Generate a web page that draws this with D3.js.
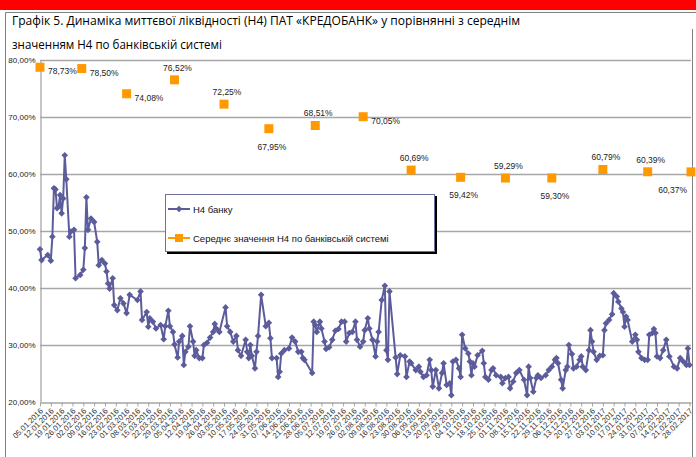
<!DOCTYPE html>
<html><head><meta charset="utf-8">
<script src="https://cdn.jsdelivr.net/npm/d3@7"></script>
<style>body{margin:0;background:#fff}svg{display:block}</style>
</head><body>
<svg id="c" width="696" height="457"></svg>
<script>
const titleLines = [
  "Графік 5. Динаміка миттєвої ліквідності (Н4) ПАТ «КРЕДОБАНК» у порівнянні з середнім",
  "значенням Н4 по банківській системі"
];
const seriesNames = ["Н4 банку", "Середнє значення Н4 по банківській системі"];
const yTicks = [20, 30, 40, 50, 60, 70, 80];
const xTickLabels = ["05.01.2016","12.01.2016","19.01.2016","26.01.2016","02.02.2016","09.02.2016","16.02.2016","23.02.2016","01.03.2016","08.03.2016","15.03.2016","22.03.2016","29.03.2016","05.04.2016","12.04.2016","19.04.2016","26.04.2016","03.05.2016","10.05.2016","17.05.2016","24.05.2016","31.05.2016","07.06.2016","14.06.2016","21.06.2016","28.06.2016","05.07.2016","12.07.2016","19.07.2016","26.07.2016","02.08.2016","09.08.2016","16.08.2016","23.08.2016","30.08.2016","06.09.2016","13.09.2016","20.09.2016","27.09.2016","04.10.2016","11.10.2016","18.10.2016","25.10.2016","01.11.2016","08.11.2016","15.11.2016","22.11.2016","29.11.2016","06.12.2016","13.12.2016","20.12.2016","27.12.2016","03.01.2017","10.01.2017","17.01.2017","24.01.2017","31.01.2017","07.02.2017","14.02.2017","21.02.2017","28.02.2017"];

const h4Dates = ["05.01.16","06.01.16","10.01.16","12.01.16","13.01.16","14.01.16","15.01.16","16.01.16","17.01.16","18.01.16","19.01.16","20.01.16","21.01.16","22.01.16","24.01.16","25.01.16","27.01.16","28.01.16","31.01.16","02.02.16","03.02.16","04.02.16","05.02.16","07.02.16","09.02.16","11.02.16","12.02.16","14.02.16","16.02.16","17.02.16","18.02.16","19.02.16","21.02.16","22.02.16","24.02.16","26.02.16","28.02.16","01.03.16","03.03.16","08.03.16","10.03.16","11.03.16","14.03.16","15.03.16","16.03.16","18.03.16","20.03.16","23.03.16","25.03.16","26.03.16","28.03.16","29.03.16","31.03.16","01.04.16","03.04.16","04.04.16","06.04.16","07.04.16","08.04.16","10.04.16","11.04.16","13.04.16","14.04.16","15.04.16","17.04.16","19.04.16","20.04.16","22.04.16","24.04.16","26.04.16","27.04.16","28.04.16","30.04.16","04.05.16","05.05.16","07.05.16","09.05.16","11.05.16","12.05.16","14.05.16","17.05.16","18.05.16","19.05.16","20.05.16","21.05.16","23.05.16","24.05.16","25.05.16","27.05.16","30.05.16","01.06.16","02.06.16","03.06.16","06.06.16","07.06.16","08.06.16","09.06.16","11.06.16","14.06.16","16.06.16","18.06.16","20.06.16","22.06.16","23.06.16","24.06.16","29.06.16","30.06.16","01.07.16","02.07.16","04.07.16","05.07.16","07.07.16","08.07.16","10.07.16","12.07.16","14.07.16","16.07.16","18.07.16","20.07.16","21.07.16","23.07.16","25.07.16","27.07.16","28.07.16","30.07.16","01.08.16","02.08.16","04.08.16","05.08.16","07.08.16","09.08.16","10.08.16","11.08.16","13.08.16","15.08.16","16.08.16","17.08.16","18.08.16","22.08.16","23.08.16","25.08.16","28.08.16","29.08.16","31.08.16","01.09.16","04.09.16","06.09.16","07.09.16","09.09.16","11.09.16","13.09.16","14.09.16","15.09.16","17.09.16","19.09.16","21.09.16","22.09.16","24.09.16","26.09.16","27.09.16","28.09.16","30.09.16","02.10.16","03.10.16","04.10.16","06.10.16","08.10.16","09.10.16","10.10.16","11.10.16","12.10.16","14.10.16","17.10.16","18.10.16","19.10.16","21.10.16","23.10.16","24.10.16","26.10.16","29.10.16","30.10.16","01.11.16","03.11.16","04.11.16","06.11.16","08.11.16","10.11.16","13.11.16","15.11.16","16.11.16","17.11.16","19.11.16","21.11.16","22.11.16","24.11.16","27.11.16","29.11.16","01.12.16","03.12.16","04.12.16","05.12.16","07.12.16","08.12.16","10.12.16","11.12.16","12.12.16","14.12.16","15.12.16","17.12.16","19.12.16","20.12.16","21.12.16","23.12.16","25.12.16","26.12.16","27.12.16","28.12.16","30.12.16","01.01.17","03.01.17","04.01.17","05.01.17","07.01.17","09.01.17","10.01.17","12.01.17","13.01.17","15.01.17","16.01.17","17.01.17","18.01.17","19.01.17","22.01.17","24.01.17","25.01.17","26.01.17","28.01.17","30.01.17","01.02.17","02.02.17","04.02.17","05.02.17","06.02.17","07.02.17","09.02.17","11.02.17","13.02.17","15.02.17","18.02.17","20.02.17","22.02.17","24.02.17","26.02.17","27.02.17","28.02.17"];
const h4Values = [46.8,44.9,45.8,44.8,49.0,57.5,57.3,54.0,54.3,56.3,53.1,55.7,63.3,59.1,49.0,49.9,50.2,41.7,42.3,43.2,47.0,55.9,50.2,52.2,51.6,48.1,44.0,44.9,44.3,42.9,40.8,39.9,41.7,37.0,36.1,38.2,37.3,35.6,38.8,37.9,39.4,34.4,35.8,33.2,34.7,34.1,32.9,33.5,31.0,33.3,36.0,33.3,32.3,30.1,27.8,30.6,31.6,26.5,28.8,29.7,33.3,30.6,28.1,29.1,27.7,27.7,30.0,30.4,31.3,32.3,33.7,32.9,32.3,36.6,33.3,32.3,30.6,31.6,29.1,28.1,30.9,28.8,27.7,30.0,28.1,25.9,28.8,31.6,38.8,33.3,33.9,31.2,27.7,27.7,24.4,25.3,28.5,29.1,29.4,31.3,30.6,28.8,28.8,27.7,27.4,25.1,34.1,33.5,32.3,34.1,32.9,30.6,29.3,29.6,30.9,32.5,32.8,34.1,34.1,30.6,32.1,32.3,34.1,30.9,29.7,30.6,32.6,34.7,32.9,30.9,28.0,30.6,32.3,37.9,40.4,29.1,27.4,39.4,27.8,24.9,28.2,28.0,24.4,27.1,26.8,25.6,26.2,25.3,24.4,24.7,27.4,25.6,22.7,25.6,22.4,25.1,26.8,23.0,23.3,21.2,27.1,27.4,25.9,24.4,31.8,29.4,28.5,27.1,24.7,26.8,26.2,28.2,29.0,26.8,24.4,23.9,25.6,25.9,24.7,24.4,23.3,24.2,24.4,22.4,23.6,25.1,25.6,23.9,21.2,26.2,24.2,21.8,24.2,24.7,24.2,24.7,25.6,26.2,27.4,27.7,26.8,23.9,22.4,25.6,26.2,30.0,28.4,25.9,26.2,27.4,28.0,26.2,25.6,29.1,32.6,30.6,28.8,27.4,28.1,28.2,32.6,33.8,34.4,35.4,39.1,38.5,37.6,36.4,35.8,33.2,35.0,34.4,30.6,31.8,30.9,28.8,27.7,27.4,27.4,31.8,32.1,32.8,32.1,28.0,27.7,29.1,30.9,28.0,26.2,25.9,27.7,27.1,26.5,29.4,26.5];

const avgDates = ["05.01.16","01.02.16","01.03.16","01.04.16","03.05.16","01.06.16","01.07.16","01.08.16","01.09.16","03.10.16","01.11.16","01.12.16","03.01.17","01.02.17","01.03.17"];
const avgValues = [78.73,78.50,74.08,76.52,72.25,67.95,68.51,70.05,60.69,59.42,59.29,59.30,60.79,60.39,60.37];
const avgLabelPlacement = ["right","right","right","above","above","below","above","right","above","below","above","below","above","above","belowleft"];

const parseShort = d3.timeParse("%d.%m.%y");
const parseLong = d3.timeParse("%d.%m.%Y");
const fmtPct = v => v.toFixed(2).replace(".", ",") + "%";

const svg = d3.select("#c");
const BLUE = "#5c5c9c", ORANGE = "#ff9900", GRID = "#a6a6a6";
const FONT = "Arial, 'Liberation Sans', sans-serif";

// frame
svg.append("rect").attr("x",0).attr("y",0).attr("width",696).attr("height",10).attr("fill","#ff0000");
svg.append("path").attr("d","M5.5,457 V12.5 H696").attr("fill","none").attr("stroke","#7f7f7f").attr("stroke-width",1);
svg.append("line").attr("x1",692.5).attr("x2",692.5).attr("y1",29).attr("y2",457).attr("stroke","#7f7f7f");

// title
titleLines.forEach((t,i) => {
  svg.append("text").attr("x",12).attr("y",25 + i*24).attr("font-family","'Liberation Sans Narrow', 'Open Sans', Arial, sans-serif")
    .attr("font-size",13).attr("fill","#000").attr("textLength", i===0 ? 508 : 210).attr("lengthAdjust","spacingAndGlyphs").text(t);
});

const x = d3.scaleTime().domain([parseShort("05.01.16"), parseShort("01.03.17")]).range([40, 691]);
const y = d3.scaleLinear().domain([20, 80]).range([402, 60]);

// gridlines
svg.append("g").selectAll("line").data(yTicks.slice(1)).join("line")
  .attr("x1",40).attr("x2",691).attr("y1",d=>y(d)+0.5).attr("y2",d=>y(d)+0.5)
  .attr("stroke",GRID).attr("stroke-width",1.3);

// y axis
const yAxis = svg.append("g").attr("transform","translate(40.5,0)")
  .call(d3.axisLeft(y).tickValues(yTicks).tickFormat(fmtPct).tickSize(0).tickPadding(5));
yAxis.select(".domain").attr("stroke",GRID).attr("stroke-width",1.3);
yAxis.selectAll("text").attr("font-family",FONT).attr("font-size",8).attr("fill","#222");

// x axis
const tickDates = xTickLabels.map(parseLong);
const xAxis = svg.append("g").attr("transform","translate(0,402.5)")
  .call(d3.axisBottom(x).tickValues(tickDates).tickFormat(d3.timeFormat("%d.%m.%Y")).tickSize(4).tickSizeOuter(0));
xAxis.select(".domain").attr("stroke",GRID).attr("stroke-width",1.3);
xAxis.selectAll(".tick line").attr("stroke",GRID).attr("stroke-width",1);
xAxis.selectAll("text").attr("font-family",FONT).attr("font-size",7.8).attr("fill","#333")
  .attr("text-anchor","end").attr("dy",0).attr("y",0)
  .attr("transform","translate(3,9) rotate(-45)");

// blue line
const h4 = h4Dates.map((d,i) => ({date: parseShort(d), v: h4Values[i]}));
const line = d3.line().x(d=>x(d.date)).y(d=>y(d.v));
svg.append("path").datum(h4).attr("d",line).attr("fill","none").attr("stroke",BLUE).attr("stroke-width",2).attr("stroke-linejoin","round");
const diamond = d3.symbol().type(d3.symbolDiamond2).size(28);
svg.append("g").selectAll("path").data(h4).join("path")
  .attr("d",diamond).attr("transform",d=>`translate(${x(d.date)},${y(d.v)})`).attr("fill",BLUE);

// orange markers
const avg = avgDates.map((d,i) => ({date: parseShort(d), v: avgValues[i], pos: avgLabelPlacement[i]}));
const square = d3.symbol().type(d3.symbolSquare).size(81);
svg.append("g").selectAll("path").data(avg).join("path")
  .attr("d",square).attr("transform",d=>`translate(${x(d.date)},${y(d.v)})`).attr("fill",ORANGE);
svg.append("g").selectAll("text").data(avg).join("text")
  .attr("font-family",FONT).attr("font-size",8.5).attr("fill","#222")
  .attr("x", d => { const px = x(d.date); return d.pos==="right" ? px+8 : d.pos==="belowleft" ? px-4 : px+3; })
  .attr("y", d => { const py = y(d.v); return d.pos==="right" ? py+7 : d.pos==="above" ? py-9 : py+21; })
  .attr("text-anchor", d => d.pos==="right" ? "start" : d.pos==="belowleft" ? "end" : "middle")
  .text(d => fmtPct(d.v));

// legend
const lg = svg.append("g");
lg.append("rect").attr("x",167).attr("y",196).attr("width",270).attr("height",58).attr("fill","#000");
lg.append("rect").attr("x",165.5).attr("y",194.5).attr("width",269).attr("height",57).attr("fill","#fff").attr("stroke","#7070a0").attr("stroke-width",1);
const items = [{name: seriesNames[0], color: BLUE, sym: diamond, yy: 209}, {name: seriesNames[1], color: ORANGE, sym: square, yy: 238}];
items.forEach(it => {
  lg.append("line").attr("x1",168).attr("x2",190).attr("y1",it.yy).attr("y2",it.yy).attr("stroke",it.color).attr("stroke-width",2);
  lg.append("path").attr("d", it.color===ORANGE ? d3.symbol().type(d3.symbolSquare).size(64)() : it.sym()).attr("transform",`translate(179,${it.yy})`).attr("fill",it.color);
  lg.append("text").attr("x",193).attr("y",it.yy+3.5).attr("font-family",FONT).attr("font-size",9.5).attr("fill","#111").text(it.name);
});
</script>
</body></html>
